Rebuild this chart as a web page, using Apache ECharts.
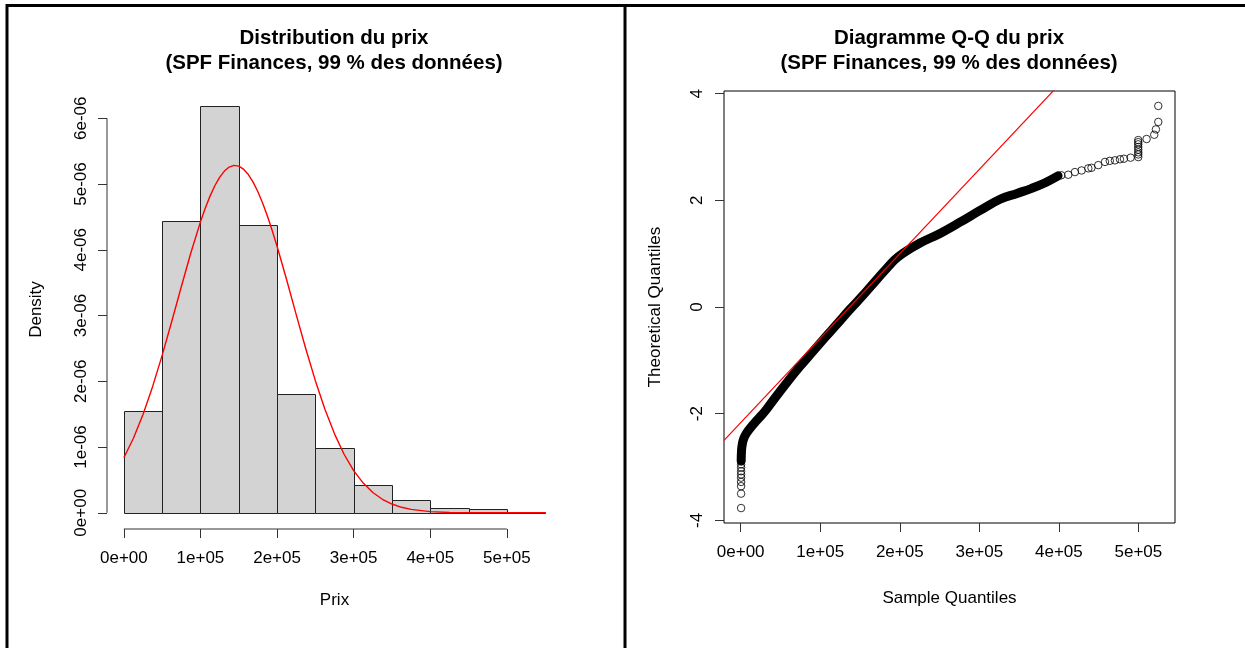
<!DOCTYPE html>
<html>
<head>
<meta charset="utf-8">
<script src="https://cdn.jsdelivr.net/npm/echarts@6/dist/echarts.min.js"></script>
<style>html,body{margin:0;padding:0;background:#fff}#c{width:1245px;height:648px}</style>
</head>
<body>
<div id="c"></div>
<script>
// ---------- Histogram (left) ----------
const histBinStart = [0, 50000, 100000, 150000, 200000, 250000, 300000, 350000, 400000, 450000, 500000];
const histBinEnd   = [50000, 100000, 150000, 200000, 250000, 300000, 350000, 400000, 450000, 500000, 550000];
const histDensity  = [1.55e-6, 4.44e-6, 6.18e-6, 4.37e-6, 1.81e-6, 0.99e-6, 0.42e-6, 0.19e-6, 0.065e-6, 0.056e-6, 0.015e-6];

// red normal-density curve
const curveX = [0, 12500, 25000, 37500, 50000, 62500, 75000, 87500, 100000, 106250, 112500, 118750, 125000,
                131250, 137500, 143750, 150000, 156250, 162500, 168750, 175000, 181250, 187500, 193750, 200000,
                212500, 225000, 237500, 250000, 262500, 275000, 287500, 300000, 312500, 325000, 337500, 350000,
                362500, 375000, 400000, 425000, 450000, 475000, 500000, 525000, 550000];
const curveY = [0.836e-6, 1.133e-6, 1.495e-6, 1.918e-6, 2.394e-6, 2.909e-6, 3.438e-6, 3.954e-6, 4.424e-6, 4.632e-6,
                4.816e-6, 4.974e-6, 5.102e-6, 5.197e-6, 5.258e-6, 5.283e-6, 5.272e-6, 5.226e-6, 5.144e-6, 5.029e-6,
                4.883e-6, 4.709e-6, 4.510e-6, 4.290e-6, 4.053e-6, 3.543e-6, 3.014e-6, 2.495e-6, 2.009e-6, 1.574e-6,
                1.200e-6, 0.890e-6, 0.642e-6, 0.451e-6, 0.308e-6, 0.205e-6, 0.133e-6, 0.083e-6, 0.051e-6, 0.018e-6,
                0.005e-6, 0.0015e-6, 0.0004e-6, 0.0001e-6, 0, 0];

const histXTicks = [0, 100000, 200000, 300000, 400000, 500000];
const histXTickLabels = ['0e+00', '1e+05', '2e+05', '3e+05', '4e+05', '5e+05'];
const histYTicks = [0, 1e-6, 2e-6, 3e-6, 4e-6, 5e-6, 6e-6];
const histYTickLabels = ['0e+00', '1e-06', '2e-06', '3e-06', '4e-06', '5e-06', '6e-06'];
const histXRange = [-22000, 572000];
const histYRange = [-0.247e-6, 6.43e-6];

// ---------- Q-Q plot (right) ----------
// dense part of the point cloud (reads as a solid black band)
const qqBandX = [600, 1000, 2000, 4000, 7500, 12500, 20700, 30800, 43300, 58400, 74700, 89800, 106200, 121200,
                 137600, 152600, 168950, 184000, 194000, 204100, 225500, 250600, 275750, 300900, 326000, 347400,
                 365000, 380000, 399000];
const qqBandY = [-2.88, -2.70, -2.57, -2.46, -2.36, -2.26, -2.12, -1.95, -1.70, -1.41, -1.11, -0.85, -0.57, -0.32,
                 -0.04, 0.20, 0.48, 0.73, 0.89, 1.01, 1.20, 1.38, 1.59, 1.81, 2.02, 2.13,
                 2.22, 2.31, 2.46];
// individually visible points (tails)
const qqPointX = [500, 500, 500, 500, 500, 500, 500, 500, 500, 500,
                  403000, 411800, 420200, 428600, 437000, 441000, 449500, 458000, 464000, 470500, 476800, 481800, 490200,
                  499800, 499800, 499800, 499800, 499800, 499800, 499800, 499800,
                  510300, 519900, 522000, 525000, 525000];
const qqPointY = [-3.77, -3.50, -3.36, -3.28, -3.20, -3.14, -3.08, -3.01, -2.95, -2.90,
                  2.47, 2.48, 2.53, 2.56, 2.60, 2.61, 2.66, 2.72, 2.74, 2.75, 2.77, 2.78, 2.80,
                  2.81, 2.86, 2.90, 2.95, 3.00, 3.05, 3.09, 3.13,
                  3.15, 3.23, 3.33, 3.47, 3.77];
// reference line (qqline) through two points
const qqLineX = [-21000, 420000];
const qqLineY = [-2.50, 4.48];

const qqXTicks = [0, 100000, 200000, 300000, 400000, 500000];
const qqXTickLabels = ['0e+00', '1e+05', '2e+05', '3e+05', '4e+05', '5e+05'];
const qqYTicks = [-4, -2, 0, 2, 4];
const qqYTickLabels = ['-4', '-2', '0', '2', '4'];
const qqXRange = [-21000, 546000];
const qqYRange = [-4.05, 4.05];

// ---------- chart ----------
const FONT = '"Liberation Sans", Arial, Helvetica, sans-serif';
const AX = '#333';
function labelFor(ticks, labels) {
  return v => { let best = 0; ticks.forEach((t, i) => { if (Math.abs(t - v) < Math.abs(ticks[best] - v)) best = i; }); return labels[best]; };
}

const chart = echarts.init(document.getElementById('c'), null, { renderer: 'canvas' });

const commonAxisLabel = { color: '#000', fontSize: 17, fontFamily: FONT };
const nameStyle = { color: '#000', fontSize: 17, fontFamily: FONT };
const titleStyle = { fontSize: 20.5, fontWeight: 'bold', fontFamily: FONT, color: '#000', lineHeight: 25 };

chart.setOption({
  animation: false,
  backgroundColor: '#fff',
  title: [
    { text: 'Distribution du prix\n(SPF Finances, 99 % des données)', left: 329, top: 21, textAlign: 'center', textStyle: titleStyle },
    { text: 'Diagramme Q-Q du prix\n(SPF Finances, 99 % des données)', left: 944, top: 21, textAlign: 'center', textStyle: titleStyle }
  ],
  grid: [
    { left: 107, top: 90, width: 455, height: 439, outerBoundsMode: 'none', containLabel: false },
    { left: 724, top: 91, width: 451, height: 432, outerBoundsMode: 'none', containLabel: false,
      show: true, borderColor: '#000', borderWidth: 1, backgroundColor: 'transparent' }
  ],
  xAxis: [
    { type: 'value', gridIndex: 0, min: histXRange[0], max: histXRange[1],
      splitLine: { show: false }, axisLine: { show: false, onZero: false },
      axisTick: { show: true, inside: false, length: 9, lineStyle: { color: AX }, customValues: histXTicks },
      axisLabel: { ...commonAxisLabel, margin: 21, customValues: histXTicks, formatter: labelFor(histXTicks, histXTickLabels) },
      name: 'Prix', nameLocation: 'middle', nameGap: 63, nameTextStyle: nameStyle },
    { type: 'value', gridIndex: 1, min: qqXRange[0], max: qqXRange[1],
      splitLine: { show: false }, axisLine: { show: false, onZero: false },
      axisTick: { show: true, inside: false, length: 9, lineStyle: { color: AX }, customValues: qqXTicks },
      axisLabel: { ...commonAxisLabel, margin: 21, customValues: qqXTicks, formatter: labelFor(qqXTicks, qqXTickLabels) },
      name: 'Sample Quantiles', nameLocation: 'middle', nameGap: 67, nameTextStyle: nameStyle }
  ],
  yAxis: [
    { type: 'value', gridIndex: 0, min: histYRange[0], max: histYRange[1],
      splitLine: { show: false }, axisLine: { show: false, onZero: false },
      axisTick: { show: true, inside: false, length: 9, lineStyle: { color: AX }, customValues: histYTicks },
      axisLabel: { ...commonAxisLabel, margin: 17, rotate: 90, customValues: histYTicks, formatter: labelFor(histYTicks, histYTickLabels) },
      name: 'Density', nameLocation: 'middle', nameGap: 62, nameRotate: 90, nameTextStyle: nameStyle },
    { type: 'value', gridIndex: 1, min: qqYRange[0], max: qqYRange[1],
      splitLine: { show: false }, axisLine: { show: false, onZero: false },
      axisTick: { show: true, inside: false, length: 9, lineStyle: { color: AX }, customValues: qqYTicks },
      axisLabel: { ...commonAxisLabel, margin: 18, rotate: 90, customValues: qqYTicks, formatter: labelFor(qqYTicks, qqYTickLabels) },
      name: 'Theoretical Quantiles', nameLocation: 'middle', nameGap: 60, nameRotate: 90, nameTextStyle: nameStyle }
  ],
  graphic: [
    { type: 'line', shape: { x1: 7, y1: 5.5, x2: 1245, y2: 5.5 }, style: { stroke: '#000', lineWidth: 3 }, silent: true },
    { type: 'line', shape: { x1: 7, y1: 4, x2: 7, y2: 648 }, style: { stroke: '#000', lineWidth: 3 }, silent: true },
    { type: 'line', shape: { x1: 625, y1: 4, x2: 625, y2: 648 }, style: { stroke: '#000', lineWidth: 3 }, silent: true }
  ],
  series: [
    { type: 'custom', xAxisIndex: 0, yAxisIndex: 0, clip: false,
      data: histBinStart.map((s, i) => [s, histBinEnd[i], histDensity[i]]),
      encode: { x: [0, 1], y: 2 },
      renderItem: (params, api) => {
        const p0 = api.coord([api.value(0), 0]);
        const p1 = api.coord([api.value(1), api.value(2)]);
        const x0 = Math.round(p0[0]) + 0.5, x1 = Math.round(p1[0]) + 0.5;
        const yb = Math.round(p0[1]) + 0.5, yt = Math.round(p1[1]) + 0.5;
        return { type: 'rect', shape: { x: x0, y: yt, width: x1 - x0, height: yb - yt },
                 style: { fill: '#d3d3d3', stroke: '#222', lineWidth: 1 } };
      } },
    { type: 'line', xAxisIndex: 0, yAxisIndex: 0, smooth: false, showSymbol: false, silent: true, clip: false,
      data: curveX.map((x, i) => [x, curveY[i]]),
      lineStyle: { color: '#ff0000', width: 1.4, join: 'round' } },
    // R-style axis lines spanning first to last tick
    { type: 'line', xAxisIndex: 0, yAxisIndex: 0, showSymbol: false, silent: true, clip: false,
      data: [[histXTicks[0], histYRange[0]], [histXTicks[histXTicks.length - 1], histYRange[0]]],
      lineStyle: { color: AX, width: 1 } },
    { type: 'line', xAxisIndex: 0, yAxisIndex: 0, showSymbol: false, silent: true, clip: false,
      data: [[histXRange[0], histYTicks[0]], [histXRange[0], histYTicks[histYTicks.length - 1]]],
      lineStyle: { color: AX, width: 1 } },
    // Q-Q
    { type: 'line', xAxisIndex: 1, yAxisIndex: 1, smooth: 0.4, showSymbol: false, silent: true,
      data: qqBandX.map((x, i) => [x, qqBandY[i]]),
      lineStyle: { color: '#000', width: 9, cap: 'round', join: 'round' } },
    { type: 'scatter', xAxisIndex: 1, yAxisIndex: 1, symbol: 'circle', symbolSize: 7.5, silent: true,
      data: qqPointX.map((x, i) => [x, qqPointY[i]]),
      itemStyle: { color: 'rgba(0,0,0,0)', borderColor: '#000', borderWidth: 1 } },
    { type: 'line', xAxisIndex: 1, yAxisIndex: 1, showSymbol: false, silent: true, clip: true,
      data: qqLineX.map((x, i) => [x, qqLineY[i]]),
      lineStyle: { color: '#ff0000', width: 1.2 } }
  ]
});
</script>
</body>
</html>
